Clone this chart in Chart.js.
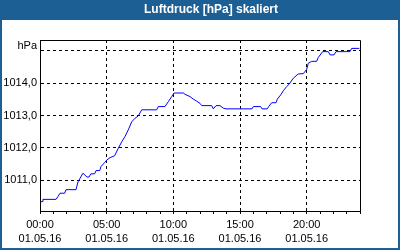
<!DOCTYPE html>
<html>
<head>
<meta charset="utf-8">
<title>Luftdruck</title>
<script src="https://cdn.jsdelivr.net/npm/chart.js@4"></script>
<style>
    html, body { margin: 0; padding: 0; background: #fff; }
    canvas { display: block; }
</style>
</head>
<body>
<canvas id="pressureChart" width="400" height="250"></canvas>
<script>
/* ── Data ── */
const chartTitle = 'Luftdruck [hPa] skaliert';
const dateLabel = '01.05.16';
const unitLabel = 'hPa';

// time of day in hours
const hours = [
    0.00, 0.15, 0.22, 1.20, 1.35, 1.50, 1.85, 1.95, 2.70, 2.85,
    3.22, 3.52, 3.67, 3.82, 4.10, 4.20, 4.48, 4.57, 4.85, 5.02,
    5.25, 5.60, 5.87, 6.13, 6.37, 6.62, 6.88, 7.13, 7.37, 7.63,
    8.75, 8.87, 9.37, 9.62, 9.88, 10.05, 10.75, 10.87, 11.25, 11.50,
    11.75, 12.00, 12.13, 12.88, 13.00, 13.20, 13.50, 13.75, 13.95, 15.90,
    16.00, 16.55, 16.65, 17.05, 17.15, 17.38, 17.70, 17.80, 18.05, 18.25,
    18.50, 18.70, 19.00, 19.37, 19.75, 20.00, 20.12, 20.38, 20.75, 20.87,
    21.20, 21.62, 21.75, 22.05, 22.20, 23.25, 23.37, 23.95
];

// pressure in hPa
const pressure = [
    1010.34, 1010.34, 1010.41, 1010.41, 1010.50, 1010.60, 1010.60, 1010.71, 1010.71, 1010.95,
    1011.22, 1011.10, 1011.10, 1011.20, 1011.20, 1011.30, 1011.30, 1011.42, 1011.55, 1011.63,
    1011.70, 1011.76, 1011.99, 1012.19, 1012.35, 1012.56, 1012.81, 1012.92, 1012.99, 1013.18,
    1013.18, 1013.28, 1013.28, 1013.43, 1013.59, 1013.70, 1013.70, 1013.66, 1013.59, 1013.51,
    1013.45, 1013.38, 1013.31, 1013.31, 1013.21, 1013.31, 1013.31, 1013.23, 1013.21, 1013.21,
    1013.28, 1013.28, 1013.21, 1013.21, 1013.28, 1013.40, 1013.40, 1013.51, 1013.64, 1013.77,
    1013.90, 1013.98, 1014.16, 1014.29, 1014.30, 1014.43, 1014.62, 1014.68, 1014.68, 1014.80,
    1014.98, 1014.98, 1014.88, 1014.88, 1014.98, 1014.98, 1015.08, 1015.08
];

const yTicks = [1011, 1012, 1013, 1014, 1015];
const xTicks = [0, 1, 2, 3, 4, 5, 6, 7, 8, 9, 10, 11, 12, 13, 14, 15, 16, 17, 18, 19, 20, 21, 22, 23, 24];
const xLabelHours = [0, 5, 10, 15, 20];

const BAR_BLUE = '#1c5f94';
const FONT = "'Liberation Sans', Arial, sans-serif";

/* ── Frame, title bar and plot border ── */
const framePlugin = {
    id: 'frame',
    beforeDraw(chart) {
        const ctx = chart.ctx;
        const w = chart.width, h = chart.height;
        ctx.save();
        ctx.fillStyle = '#ffffff';
        ctx.fillRect(0, 0, w, h);
        ctx.fillStyle = BAR_BLUE;
        ctx.fillRect(0, 0, w, 20);
        ctx.fillRect(0, 0, 2, h);
        ctx.fillRect(w - 2, 0, 2, h);
        ctx.fillRect(0, h - 2, w, 2);
        ctx.fillStyle = '#ffffff';
        ctx.font = 'bold 12px ' + FONT;
        ctx.textAlign = 'center';
        ctx.textBaseline = 'middle';
        ctx.fillText(chartTitle, 211, 10);
        ctx.restore();
    },
    afterDraw(chart) {
        const { left, right, top, bottom } = chart.chartArea;
        const ctx = chart.ctx;
        ctx.save();
        ctx.strokeStyle = '#000';
        ctx.lineWidth = 1;
        ctx.beginPath();
        ctx.moveTo(left, top + 0.5);
        ctx.lineTo(right + 0.5, top + 0.5);
        ctx.lineTo(right + 0.5, bottom + 1);
        ctx.stroke();
        ctx.restore();
    }
};

function hourLabel(h) {
    return String(h).padStart(2, '0') + ':00';
}

new Chart(document.getElementById('pressureChart'), {
    type: 'line',
    data: {
        datasets: [{
            data: hours.map((h, i) => ({ x: h, y: pressure[i] })),
            borderColor: '#0000ff',
            borderWidth: 1,
            pointRadius: 0,
            tension: 0,
            fill: false
        }]
    },
    options: {
        responsive: false,
        devicePixelRatio: 1,
        animation: false,
        layout: { padding: { left: 0, right: 40, top: 40, bottom: 0 } },
        plugins: {
            legend: { display: false },
            tooltip: { enabled: false }
        },
        scales: {
            x: {
                type: 'linear',
                min: 0,
                max: 24,
                afterBuildTicks: scale => { scale.ticks = xTicks.map(v => ({ value: v })); },
                afterFit: scale => { scale.height = 39; },
                grid: {
                    color: ctx => (ctx.tick && ctx.tick.value % 5 === 0 && ctx.tick.value > 0 && ctx.tick.value < 24)
                        ? '#000' : 'rgba(0,0,0,0)',
                    tickColor: '#000',
                    tickLength: 3,
                    lineWidth: 1
                },
                border: { display: true, color: '#000', width: 1, dash: [3, 3] },
                ticks: {
                    autoSkip: false,
                    maxRotation: 0,
                    padding: 4,
                    color: '#000',
                    font: { family: FONT, size: 11, lineHeight: '14px' },
                    callback: v => xLabelHours.includes(v) ? [hourLabel(v), dateLabel] : ''
                }
            },
            y: {
                min: 1010.05,
                max: 1015.34,
                afterBuildTicks: scale => { scale.ticks = yTicks.map(v => ({ value: v })); },
                afterFit: scale => { scale.width = 40; },
                grid: {
                    color: '#000',
                    drawTicks: false,
                    lineWidth: 1
                },
                border: { display: true, color: '#000', width: 1, dash: [3, 3] },
                ticks: {
                    padding: 3,
                    color: '#000',
                    font: { family: FONT, size: 11, lineHeight: 1 },
                    callback: v => v === 1015 ? [unitLabel, ''] : v.toFixed(1).replace('.', ',')
                }
            }
        }
    },
    plugins: [framePlugin]
});
</script>
</body>
</html>
